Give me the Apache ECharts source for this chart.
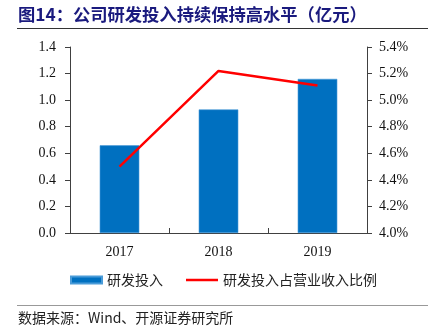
<!DOCTYPE html>
<html>
<head>
<meta charset="utf-8">
<script src="https://cdn.jsdelivr.net/npm/echarts@6/dist/echarts.min.js"></script>
<style>html,body{margin:0;padding:0;background:#fff;}#c{width:434px;height:332px;}</style>
</head>
<body>
<div id="c"></div>
<script>
var categories = ['2017', '2018', '2019'];
var rdInvest = [0.66, 0.93, 1.16];
var rdRatio = [4.50, 5.22, 5.11];
var leftTicks = { min: 0, max: 1.4, interval: 0.2 };
var rightTicks = { min: 4.0, max: 5.4, interval: 0.2 };
var titleText = '图14：公司研发投入持续保持高水平（亿元）';
var sourceText = '数据来源：Wind、开源证券研究所';

var serif = '"Liberation Serif", "Times New Roman", serif';
var cjk = '"Noto Sans CJK SC", sans-serif';

var chart = echarts.init(document.getElementById('c'), null, { renderer: 'canvas' });
var legendText = { fontFamily: cjk, fontSize: 14, color: '#222' };
chart.setOption({
  animation: false,
  backgroundColor: '#fff',
  grid: { left: 70, right: 67, top: 47, bottom: 99, containLabel: false },
  legend: [
    {
      top: 273, left: 70, padding: 0,
      itemWidth: 31, itemHeight: 7, itemGap: 0,
      textStyle: legendText,
      data: [{ name: '研发投入', icon: 'rect' }]
    },
    {
      top: 273, left: 186, padding: 0,
      itemWidth: 32, itemHeight: 2.5, itemGap: 0,
      textStyle: legendText,
      data: [{ name: '研发投入占营业收入比例', icon: 'rect' }]
    }
  ],
  xAxis: {
    type: 'category',
    data: categories,
    axisLine: { lineStyle: { color: '#404040', width: 1 } },
    axisTick: { show: true, inside: true, length: 5, lineStyle: { color: '#404040' } },
    axisLabel: { fontFamily: serif, fontSize: 14, color: '#111', margin: 12 }
  },
  yAxis: [
    {
      type: 'value',
      min: leftTicks.min, max: leftTicks.max, interval: leftTicks.interval,
      splitLine: { show: false },
      axisLine: { show: true, lineStyle: { color: '#404040' } },
      axisTick: { show: true, length: 5, lineStyle: { color: '#404040' } },
      axisLabel: { fontFamily: serif, fontSize: 14, color: '#111', margin: 14,
        formatter: function (v) { return v.toFixed(1); } }
    },
    {
      type: 'value',
      min: rightTicks.min, max: rightTicks.max, interval: rightTicks.interval,
      splitLine: { show: false },
      axisLine: { show: true, lineStyle: { color: '#404040' } },
      axisTick: { show: true, length: 5, lineStyle: { color: '#404040' } },
      axisLabel: { fontFamily: serif, fontSize: 14, color: '#111', margin: 12,
        formatter: function (v) { return v.toFixed(1) + '%'; } }
    }
  ],
  series: [
    {
      name: '研发投入',
      type: 'bar',
      data: rdInvest,
      barWidth: '40%',
      itemStyle: { color: '#0070C0', borderColor: '#4A9BD8', borderWidth: 0.6 }
    },
    {
      name: '研发投入占营业收入比例',
      type: 'line',
      yAxisIndex: 1,
      data: rdRatio,
      symbol: 'none',
      lineStyle: { color: '#FF0000', width: 2.5 },
      itemStyle: { color: '#FF0000' }
    }
  ],
  graphic: [
    { type: 'text', left: 18, top: 6,
      style: { text: titleText, font: 'bold 17.3px ' + cjk, fill: '#1A1A7E' } },
    { type: 'line', shape: { x1: 17, y1: 28.5, x2: 428, y2: 28.5 },
      style: { stroke: '#333', lineWidth: 1 } },
    { type: 'line', shape: { x1: 17, y1: 305.5, x2: 428, y2: 305.5 },
      style: { stroke: '#999', lineWidth: 1 } },
    { type: 'text', left: 18, top: 311,
      style: { text: sourceText, font: '14px ' + cjk, fill: '#222' } }
  ]
});
</script>
</body>
</html>
